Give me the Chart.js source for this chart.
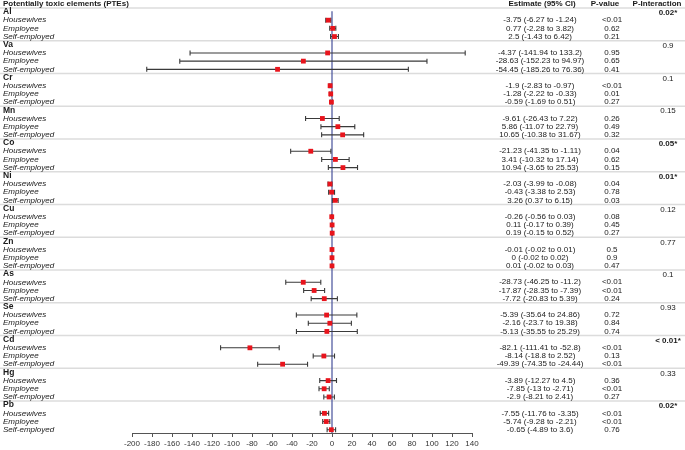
<!DOCTYPE html>
<html>
<head>
<meta charset="utf-8">
<script src="https://cdn.jsdelivr.net/npm/chart.js@4.4.0/dist/chart.umd.min.js"></script>
<style>
  body { margin: 0; background: #fff; }
  #wrap { width: 685px; height: 450px; position: relative; }
</style>
</head>
<body>
<div id="wrap"><canvas id="forest"></canvas></div>
<script>
// data
const elements = ["Al", "Va", "Cr", "Mn", "Co", "Ni", "Cu", "Zn", "As", "Se", "Cd", "Hg", "Pb"];
const subgroups = ["Housewives", "Employee", "Self-employed"];

const estimates = [
  [-3.75, 0.77, 2.5], [-4.37, -28.63, -54.45], [-1.9, -1.28, -0.59], [-9.61, 5.86, 10.65],
  [-21.23, 3.41, 10.94], [-2.03, -0.43, 3.26], [-0.26, 0.11, 0.19], [-0.01, 0, 0.01],
  [-28.73, -17.87, -7.72], [-5.39, -2.16, -5.13], [-82.1, -8.14, -49.39], [-3.89, -7.85, -2.9],
  [-7.55, -5.74, -0.65]
];
const lower = [
  [-6.27, -2.28, -1.43], [-141.94, -152.23, -185.26], [-2.83, -2.22, -1.69], [-26.43, -11.07, -10.38],
  [-41.35, -10.32, -3.65], [-3.99, -3.38, 0.37], [-0.56, -0.17, -0.15], [-0.02, -0.02, -0.02],
  [-46.25, -28.35, -20.83], [-35.64, -23.7, -35.55], [-111.41, -18.8, -74.35], [-12.27, -13, -8.21],
  [-11.76, -9.28, -4.89]
];
const upper = [
  [-1.24, 3.82, 6.42], [133.2, 94.97, 76.36], [-0.97, -0.33, 0.51], [7.22, 22.79, 31.67],
  [-1.11, 17.14, 25.53], [-0.08, 2.53, 6.15], [0.03, 0.39, 0.52], [0.01, 0.02, 0.03],
  [-11.2, -7.39, 5.39], [24.86, 19.38, 25.29], [-52.8, 2.52, -24.44], [4.5, -2.71, 2.41],
  [-3.35, -2.21, 3.6]
];
const pValues = [
  ["<0.01", "0.62", "0.21"], ["0.95", "0.65", "0.41"], ["<0.01", "0.01", "0.27"], ["0.26", "0.49", "0.32"],
  ["0.04", "0.62", "0.15"], ["0.04", "0.78", "0.03"], ["0.08", "0.45", "0.27"], ["0.5", "0.9", "0.47"],
  ["<0.01", "<0.01", "0.24"], ["0.72", "0.84", "0.74"], ["<0.01", "0.13", "<0.01"], ["0.36", "<0.01", "0.27"],
  ["<0.01", "<0.01", "0.76"]
];
const pInteraction = ["0.02*", "0.9", "0.1", "0.15", "0.05*", "0.01*", "0.12", "0.77", "0.1", "0.93", "< 0.01*", "0.33", "0.02*"];
const xTicks = [-200, -180, -160, -140, -120, -100, -80, -60, -40, -20, 0, 20, 40, 60, 80, 100, 120, 140];

// row 0 = header, each element takes 4 rows (label + 3 subgroups)
const nRows = 1 + elements.length * 4;
const points = [];
const bars = [];
elements.forEach((el, g) => {
  subgroups.forEach((s, k) => {
    const row = 1 + g * 4 + 1 + k;
    points.push({ x: estimates[g][k], y: row });
    bars.push({ lo: lower[g][k], hi: upper[g][k], row: row });
  });
});

const FONT = "'Liberation Sans', Arial, sans-serif";

const forestPlugin = {
  id: "forest",
  beforeDatasetsDraw(chart) {
    const ctx = chart.ctx; const xs = chart.scales.x; const ys = chart.scales.y;
    ctx.save();
    // separators between the groups
    ctx.strokeStyle = "#dcdcdc"; ctx.lineWidth = 1.5;
    for (let g = 0; g < elements.length; g++) {
      const yy = ys.getPixelForValue(g * 4 + 0.5);
      ctx.beginPath(); ctx.moveTo(0, yy); ctx.lineTo(chart.width, yy); ctx.stroke();
    }
    // line of no effect
    ctx.strokeStyle = "#46509a"; ctx.lineWidth = 1.2;
    const x0 = xs.getPixelForValue(0);
    ctx.beginPath(); ctx.moveTo(x0, ys.getPixelForValue(0.9)); ctx.lineTo(x0, chart.chartArea.bottom); ctx.stroke();
    // confidence intervals
    ctx.strokeStyle = "#3a3a3a"; ctx.lineWidth = 1.1;
    bars.forEach(b => {
      const a = xs.getPixelForValue(b.lo), c = xs.getPixelForValue(b.hi), yy = ys.getPixelForValue(b.row);
      ctx.beginPath();
      ctx.moveTo(a, yy); ctx.lineTo(c, yy);
      ctx.moveTo(a, yy - 2.5); ctx.lineTo(a, yy + 2.5);
      ctx.moveTo(c, yy - 2.5); ctx.lineTo(c, yy + 2.5);
      ctx.stroke();
    });
    ctx.restore();
  },
  afterDraw(chart) {
    const ctx = chart.ctx; const ys = chart.scales.y;
    ctx.save();
    ctx.fillStyle = "#1a1a1a";
    ctx.textBaseline = "middle";
    // headers
    let yy = ys.getPixelForValue(0);
    ctx.font = "bold 8px " + FONT;
    ctx.textAlign = "left"; ctx.fillText("Potentially toxic elements (PTEs)", 3, yy);
    ctx.textAlign = "center";
    ctx.fillText("Estimate (95% CI)", 542, yy);
    ctx.fillText("P-value", 605, yy);
    ctx.fillText("P-Interaction", 657, yy);

    elements.forEach((el, g) => {
      const r0 = 1 + g * 4;
      yy = ys.getPixelForValue(r0);
      ctx.font = "bold 8.5px " + FONT; ctx.textAlign = "left";
      ctx.fillText(el, 3, yy);
      ctx.font = (pInteraction[g].indexOf("*") >= 0 ? "bold " : "") + "8px " + FONT;
      ctx.textAlign = "center";
      ctx.fillText(pInteraction[g], 668, yy + 1);
      subgroups.forEach((s, k) => {
        const y2 = ys.getPixelForValue(r0 + 1 + k);
        ctx.font = "italic 8px " + FONT; ctx.textAlign = "left";
        ctx.fillText(s, 3, y2);
        ctx.font = "8px " + FONT; ctx.textAlign = "center";
        ctx.fillText(estimates[g][k] + " (" + lower[g][k] + " to " + upper[g][k] + ")", 540, y2);
        ctx.fillText(pValues[g][k], 612, y2);
      });
    });
    ctx.restore();
  }
};

new Chart(document.getElementById("forest"), {
  type: "scatter",
  data: {
    datasets: [{
      data: points,
      pointStyle: "rect",
      pointRadius: 3.4,
      pointHoverRadius: 3.4,
      backgroundColor: "#e8141c",
      borderWidth: 0,
      clip: false
    }]
  },
  options: {
    responsive: true,
    maintainAspectRatio: false,
    animation: false,
    layout: { padding: { left: 132, right: 213, top: 3.8, bottom: 0 } },
    plugins: { legend: { display: false }, tooltip: { enabled: false } },
    scales: {
      x: {
        type: "linear", min: -200, max: 140,
        afterBuildTicks: (scale) => { scale.ticks = xTicks.map(v => ({ value: v })); },
        afterFit: (scale) => { scale.height = 17; },
        grid: { drawOnChartArea: false, drawTicks: true, tickLength: 4, color: "#555", lineWidth: 1 },
        border: { display: true, color: "#555", width: 1 },
        ticks: { autoSkip: false, maxRotation: 0, padding: 2, color: "#333", font: { family: FONT, size: 8 } }
      },
      y: {
        type: "linear", min: 0, max: nRows - 0.6, reverse: true, display: false
      }
    }
  },
  plugins: [forestPlugin]
});
</script>
</body>
</html>
